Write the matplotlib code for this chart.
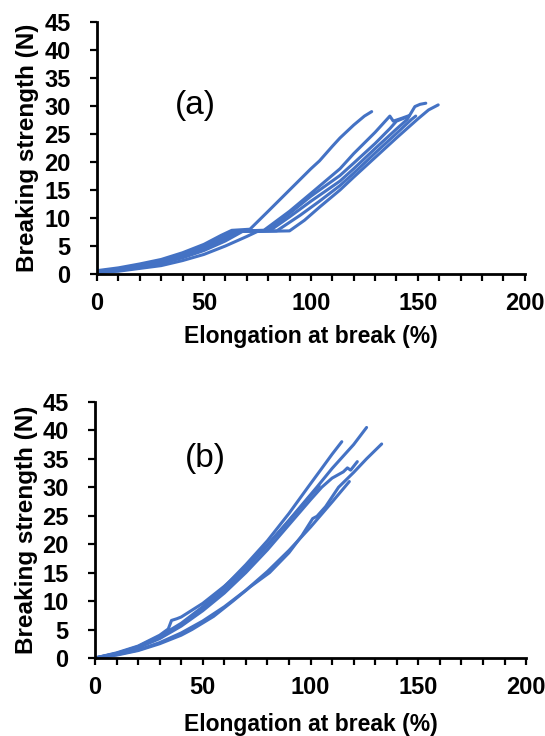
import matplotlib.pyplot as plt
import numpy as np

plt.rcParams['font.family'] = ['Liberation Sans', 'DejaVu Sans']
plt.rcParams['xtick.major.pad'] = 8
plt.rcParams['ytick.major.pad'] = 14

blue = '#4472C4'

# ---- (a) curves: elongation (%) vs breaking strength (N)
a1_x = [0, 10, 20, 30, 40, 50, 58, 63, 71.5, 80, 90, 100, 104, 110, 113.6, 120, 125, 128.4]
a1_y = [0.6, 1.1, 1.8, 2.6, 3.8, 5.3, 6.9, 7.8, 8.0, 11.2, 15.0, 18.8, 20.2, 22.8, 24.3, 26.6, 28.2, 29.0]
a2_x = [0, 10, 20, 30, 40, 50, 60, 66, 78, 90, 100, 113.6, 120, 130, 136.9, 138.5, 142.4, 146]
a2_y = [0.4, 0.8, 1.4, 2.2, 3.3, 4.7, 6.5, 7.7, 7.8, 11.2, 14.4, 18.8, 21.5, 25.3, 28.2, 27.3, 27.8, 28.3]
a3_x = [0, 10, 20, 30, 40, 50, 60, 68, 81, 90, 100, 113.6, 120, 130, 140, 145, 148.6, 151, 153.7]
a3_y = [0.3, 0.6, 1.2, 1.9, 2.9, 4.2, 5.9, 7.6, 7.8, 10.2, 13.0, 16.6, 18.8, 22.4, 25.9, 27.6, 29.9, 30.3, 30.5]
a4_x = [0, 10, 20, 30, 40, 50, 60, 67, 84, 95, 104, 113.6, 120, 130, 140, 147, 149]
a4_y = [0.4, 0.7, 1.3, 2.1, 3.1, 4.5, 6.2, 7.6, 7.7, 10.5, 13.0, 15.8, 18.0, 21.6, 25.1, 27.6, 28.2]
a5_x = [0, 10, 20, 30, 40, 50, 60, 70, 75, 90, 97, 104.2, 113.6, 120, 130, 140, 150, 155, 159.5]
a5_y = [0.3, 0.5, 1.0, 1.5, 2.4, 3.5, 5.0, 6.7, 7.6, 7.7, 9.6, 12.0, 15.0, 17.3, 20.8, 24.3, 27.7, 29.3, 30.2]
a6_x = [0, 10, 20, 30, 40, 50, 60, 64, 80, 90, 100, 113.6, 120, 130, 137, 140, 144]
a6_y = [0.5, 0.9, 1.5, 2.4, 3.5, 5.0, 6.8, 7.7, 7.8, 10.8, 13.9, 17.6, 19.8, 23.3, 26.0, 27.3, 27.9]

# ---- (b) curves
b1_x = [0, 10, 20, 30, 40, 50, 60, 70, 80, 90, 98.8, 105, 110, 114.5]
b1_y = [0, 0.8, 2.0, 3.8, 6.1, 9.0, 12.5, 16.4, 20.6, 25.4, 30.0, 33.2, 35.8, 38.0]
b2_x = [0, 10, 20, 30, 34, 35.5, 38, 40, 50, 60, 70, 80, 90, 102.9, 110, 115, 120, 123, 126]
b2_y = [0, 0.9, 2.1, 4.0, 5.1, 6.6, 6.9, 7.2, 9.6, 12.6, 16.0, 19.9, 24.2, 30.0, 33.3, 35.4, 37.5, 39.0, 40.5]
b3_x = [0, 10, 20, 30, 40, 50, 60, 70, 80, 90, 100, 105.2, 110, 115.2, 117.1, 118.6, 121.7]
b3_y = [0, 0.7, 1.8, 3.4, 5.6, 8.3, 11.4, 15.0, 19.0, 23.4, 27.8, 30.0, 31.6, 32.7, 33.4, 33.0, 34.5]
b4_x = [0, 10, 20, 30, 40, 45, 55, 64, 72, 81, 90, 96, 101, 103, 107, 113, 120, 126, 133]
b4_y = [0, 0.5, 1.3, 2.5, 4.0, 5.0, 7.3, 10.0, 12.5, 15.0, 18.5, 21.5, 24.5, 24.9, 26.6, 30.0, 32.6, 35.0, 37.6]
b5_x = [0, 10, 20, 30, 40, 50, 60, 70, 80, 90, 100, 110, 118]
b5_y = [0, 0.6, 1.4, 2.7, 4.4, 6.5, 9.0, 11.9, 15.2, 18.9, 23.0, 27.4, 31.0]
b6_x = [0, 10, 20, 30, 40, 50, 60, 70, 80, 90, 100, 104]
b6_y = [0, 0.8, 1.9, 3.6, 5.8, 8.6, 11.9, 15.6, 19.7, 24.1, 28.5, 30.2]

curves_a = [(a1_x, a1_y), (a2_x, a2_y), (a3_x, a3_y), (a4_x, a4_y), (a5_x, a5_y), (a6_x, a6_y)]
curves_b = [(b1_x, b1_y), (b2_x, b2_y), (b3_x, b3_y), (b4_x, b4_y), (b5_x, b5_y), (b6_x, b6_y)]

fig = plt.figure(figsize=(5.45, 7.36), dpi=100)
ax_a = fig.add_axes([0.178, 0.6277, 0.785, 0.3424])
ax_b = fig.add_axes([0.1743, 0.106, 0.791, 0.348])


def style(ax, label, lx, ly, curves, ylab_x, xlab_y):
    for cx, cy in curves:
        ax.plot(cx, cy, color=blue, linewidth=2.2, solid_capstyle='round')
    ax.set_xlim(0, 200)
    ax.set_ylim(0, 45)
    ax.set_xticks(np.arange(0, 201, 50))
    ax.set_xticks(np.arange(0, 201, 10), minor=True)
    ax.set_yticks(np.arange(0, 46, 5))
    for s in ['top', 'right']:
        ax.spines[s].set_visible(False)
    for s in ['left', 'bottom']:
        ax.spines[s].set_linewidth(2)
    ax.tick_params(which='both', direction='out', length=5, width=1.6, labelsize=17)
    ax.yaxis.set_tick_params(which='major', pad=14)
    for t in ax.get_xticklabels() + ax.get_yticklabels():
        t.set_fontweight('bold')
    ax.set_xlabel('Elongation at break (%)', fontsize=16.5, fontweight='bold')
    ax.set_ylabel('Breaking strength (N)', fontsize=17.5, fontweight='bold')
    ax.xaxis.set_label_coords(0.5, xlab_y)
    ax.yaxis.set_label_coords(ylab_x, 0.5)
    ax.text(lx, ly, label, fontsize=24, ha='center', va='center')


style(ax_a, '(a)', 45.8, 30.1, curves_a, -0.136, -0.202)
style(ax_b, '(b)', 51, 35.1, curves_b, -0.132, -0.215)

fig.savefig('out.png', dpi=100)
